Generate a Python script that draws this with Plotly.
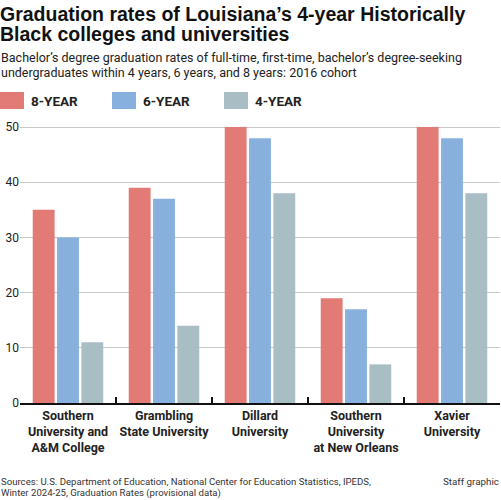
import plotly.graph_objects as go

categories = ["Southern<br>University and<br>A&M College", "Grambling<br>State University",
              "Dillard<br>University", "Southern<br>University<br>at New Orleans", "Xavier<br>University"]
series_names = ["8-YEAR", "6-YEAR", "4-YEAR"]
eight_year = [35, 39, 50, 19, 50]
six_year = [30, 37, 48, 17, 48]
four_year = [11, 14, 38, 7, 38]
colors = ["#E27A75", "#88B0DE", "#A9BDC4"]
y_ticks = [0, 10, 20, 30, 40, 50]

FONT = "Roboto, sans-serif"
TITLE_FONT = "Liberation Sans, Arial, sans-serif"

PL, PT, PB, PW, PH = 20, 126, 403, 480, 277


def px_x(x):
    return (x - PL) / PW


def px_y(y):
    return (PB - y) / PH


fig = go.Figure()
for name, vals, col in zip(series_names, [eight_year, six_year, four_year], colors):
    fig.add_trace(go.Bar(x=categories, y=vals, name=name, marker=dict(color=col, line=dict(width=0)),
                         showlegend=False))

fig.update_layout(
    width=501, height=500,
    margin=dict(l=PL, r=1, t=PT, b=500 - PB),
    paper_bgcolor="white", plot_bgcolor="white",
    barmode="group", bargap=0.24, bargroupgap=0.1,
    font=dict(family=FONT, color="#222"),
    xaxis=dict(showgrid=False, showline=True, linecolor="#111", linewidth=1.5,
               ticks="inside", ticklen=6, tickcolor="#111", tickwidth=1.5,
               tickson="boundaries", tickangle=0, automargin=False,
               tickfont=dict(family=FONT, size=12.5, color="#222", weight="bold")),
    yaxis=dict(range=[0, 50.2], tickvals=y_ticks, showgrid=True, gridcolor="#c8c8c8", gridwidth=1,
               zeroline=False, showline=False, ticks="", automargin=False,
               tickfont=dict(family=FONT, size=12, color="#222")),
)


def text(t, x, y, size, family=FONT, color="#222", anchor="left"):
    fig.add_annotation(text=t, xref="paper", yref="paper", x=px_x(x), y=px_y(y),
                       xanchor=anchor, yanchor="middle", showarrow=False, align=anchor,
                       font=dict(family=family, size=size, color=color))


# Title / subtitle
text("<b>Graduation rates of Louisiana’s 4-year Historically</b>", -2, 14, 19.5, TITLE_FONT, "#111")
text("<b>Black colleges and universities</b>", -2, 34, 19.5, TITLE_FONT, "#111")
text("Bachelor’s degree graduation rates of full-time, first-time, bachelor’s degree-seeking", -1, 57, 12.5)
text("undergraduates within 4 years, 6 years, and 8 years: 2016 cohort", -1, 73, 12.5)

# Legend (manual)
leg_x = [0, 112, 224]
for name, col, lx in zip(series_names, colors, leg_x):
    fig.add_shape(type="rect", xref="paper", yref="paper", x0=px_x(lx), x1=px_x(lx + 24),
                  y0=px_y(109), y1=px_y(92), fillcolor=col, line=dict(width=0))
    text("<b>" + name + "</b>", lx + 29, 101, 13.5)

# Footer
text("Sources: U.S. Department of Education, National Center for Education Statistics, IPEDS,", -1, 481, 9.6, color="#333")
text("Winter 2024-25, Graduation Rates (provisional data)", -1, 493, 9.6, color="#333")
text("Staff graphic", 501, 481, 9.8, color="#333", anchor="right")

fig.write_html("out.html")
